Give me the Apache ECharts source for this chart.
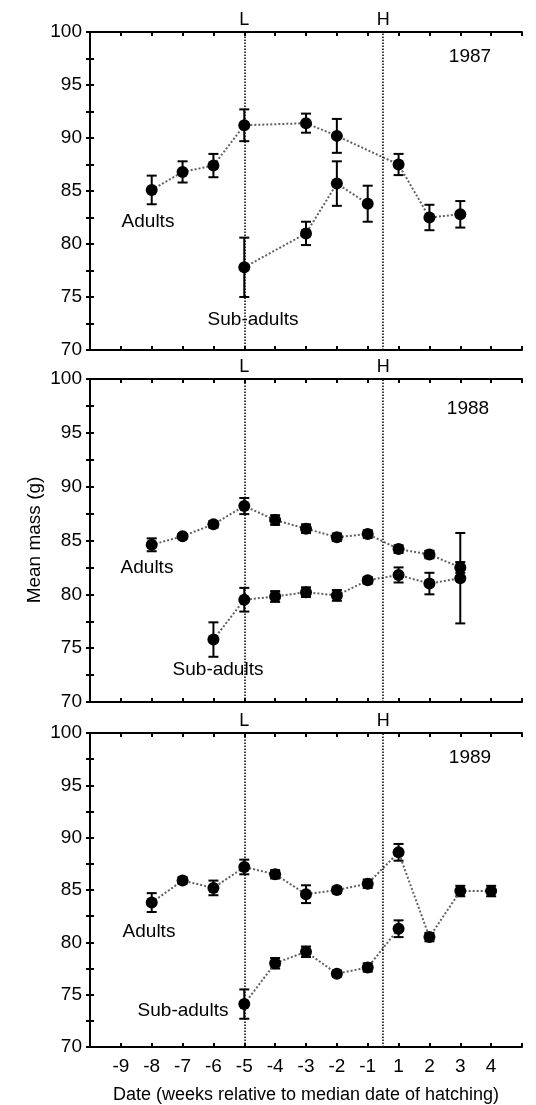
<!DOCTYPE html>
<html>
<head>
<meta charset="utf-8">
<script src="https://cdn.jsdelivr.net/npm/echarts@6.0.0/dist/echarts.min.js"></script>
<style>
  html, body { margin: 0; padding: 0; background: #fff; }
  #main { width: 536px; height: 1105px; }
</style>
</head>
<body>
<div id="main"></div>
<script>
// tick labels on the week axis (there is no week 0)
const weekLabels = ['-9', '-8', '-7', '-6', '-5', '-4', '-3', '-2', '-1', '1', '2', '3', '4'];
const years = ['1987', '1988', '1989'];

// 1987
const weeks87Adult = [-8, -7, -6, -5, -3, -2, 1, 2, 3];
const mean87Adult = [85.1, 86.8, 87.4, 91.2, 91.4, 90.2, 87.5, 82.5, 82.8];
const se87Adult = [1.35, 1.0, 1.1, 1.5, 0.9, 1.6, 1.0, 1.2, 1.25];
const weeks87Sub = [-5, -3, -2, -1];
const mean87Sub = [77.8, 81.0, 85.7, 83.8];
const se87Sub = [2.8, 1.1, 2.1, 1.7];

// 1988
const weeks88Adult = [-8, -7, -6, -5, -4, -3, -2, -1, 1, 2, 3];
const mean88Adult = [84.6, 85.4, 86.5, 88.2, 86.9, 86.1, 85.3, 85.6, 84.2, 83.7, 82.5];
const se88Adult = [0.6, 0.2, 0.3, 0.75, 0.45, 0.4, 0.35, 0.35, 0.35, 0.35, 0.5];
const weeks88Sub = [-6, -5, -4, -3, -2, -1, 1, 2, 3];
const mean88Sub = [75.8, 79.5, 79.8, 80.2, 79.9, 81.3, 81.8, 81.0, 81.5];
const se88Sub = [1.6, 1.1, 0.5, 0.45, 0.5, 0.3, 0.7, 1.0, 4.2];

// 1989
const weeks89Adult = [-8, -7, -6, -5, -4, -3, -2, -1, 1, 2, 3, 4];
const mean89Adult = [83.8, 85.9, 85.2, 87.2, 86.5, 84.6, 85.0, 85.6, 88.6, 80.5, 84.9, 84.9];
const se89Adult = [0.9, 0.3, 0.7, 0.7, 0.4, 0.85, 0.3, 0.4, 0.8, 0.4, 0.5, 0.5];
const weeks89Sub = [-5, -4, -3, -2, -1, 1];
const mean89Sub = [74.1, 78.0, 79.1, 77.0, 77.6, 81.3];
const se89Sub = [1.4, 0.5, 0.5, 0.3, 0.4, 0.8];

const laying = -5;      // L
const hatching = 0;     // H, between -1 and 1

// week -> axis slot (weeks -9..-1 are slots 1..9, weeks 1..4 are slots 10..13)
function slot(w) {
  if (w === 0) return 9.5;
  return w < 0 ? w + 10 : w + 9;
}

const panels = [
  { adult: [weeks87Adult, mean87Adult, se87Adult], sub: [weeks87Sub, mean87Sub, se87Sub],
    year: [470, 57], adultTxt: [148, 222], subTxt: [253, 320] },
  { adult: [weeks88Adult, mean88Adult, se88Adult], sub: [weeks88Sub, mean88Sub, se88Sub],
    year: [468, 409], adultTxt: [147, 568], subTxt: [218, 670] },
  { adult: [weeks89Adult, mean89Adult, se89Adult], sub: [weeks89Sub, mean89Sub, se89Sub],
    year: [470, 758], adultTxt: [149, 932], subTxt: [183, 1011] }
];

const gridTops = [32, 379, 733];
const gridHeights = [318, 323, 321];
const FONT = '"Liberation Sans", Arial, sans-serif';

const chart = echarts.init(document.getElementById('main'));

const grid = [], xAxis = [], yAxis = [], series = [], graphic = [];

function errRender(params, api) {
  const x = api.value(0);
  const top = api.coord([x, api.value(2)]);
  const bot = api.coord([x, api.value(1)]);
  const st = { stroke: '#000', lineWidth: 2 };
  const w = 5;
  return {
    type: 'group',
    children: [
      { type: 'line', shape: { x1: top[0], y1: top[1], x2: bot[0], y2: bot[1] }, style: st },
      { type: 'line', shape: { x1: top[0] - w, y1: top[1], x2: top[0] + w, y2: top[1] }, style: st },
      { type: 'line', shape: { x1: bot[0] - w, y1: bot[1], x2: bot[0] + w, y2: bot[1] }, style: st }
    ]
  };
}

panels.forEach((p, i) => {
  grid.push({ left: 90, right: 14, top: gridTops[i], height: gridHeights[i] });

  const xBase = {
    type: 'value', gridIndex: i, min: 0, max: 14, interval: 1,
    axisLine: { show: true, lineStyle: { color: '#000', width: 2 } },
    axisTick: { show: true, inside: true, length: 4, lineStyle: { color: '#000', width: 2 } },
    splitLine: { show: false }
  };
  xAxis.push(Object.assign({}, xBase, {
    position: 'bottom',
    axisLabel: {
      show: i === 2, color: '#000', fontSize: 19, fontFamily: FONT, margin: 10,
      formatter: v => (v >= 1 && v <= 13 ? weekLabels[v - 1] : '')
    },
    name: i === 2 ? 'Date (weeks relative to median date of hatching)' : '',
    nameLocation: 'middle', nameGap: 39,
    nameTextStyle: { color: '#000', fontSize: 18, fontFamily: FONT }
  }));
  xAxis.push(Object.assign({}, xBase, { position: 'top', axisLabel: { show: false } }));

  const yBase = {
    type: 'value', gridIndex: i, min: 70, max: 100, interval: 5,
    axisLine: { show: true, lineStyle: { color: '#000', width: 2 } },
    axisTick: { show: true, inside: true, length: 4, lineStyle: { color: '#000', width: 2 } },
    minorTick: { show: true, splitNumber: 2, length: 4, lineStyle: { color: '#000', width: 2 } },
    splitLine: { show: false }, minorSplitLine: { show: false }
  };
  yAxis.push(Object.assign({}, yBase, {
    position: 'left',
    axisLabel: { color: '#000', fontSize: 19, fontFamily: FONT, margin: 8 }
  }));
  yAxis.push(Object.assign({}, yBase, { position: 'right', axisLabel: { show: false } }));

  const xi = i * 2, yi = i * 2;
  [p.adult, p.sub].forEach((g, k) => {
    const [wk, mean, se] = g;
    const pts = wk.map((w, j) => [slot(w), mean[j]]);
    const bars = wk.map((w, j) => [slot(w), mean[j] - se[j], mean[j] + se[j]]);
    series.push({
      type: 'custom', xAxisIndex: xi, yAxisIndex: yi, renderItem: errRender,
      data: bars, encode: { x: 0, y: [1, 2] }, z: 3, silent: true
    });
    const line = {
      type: 'line', xAxisIndex: xi, yAxisIndex: yi, data: pts,
      symbol: 'circle', symbolSize: 12, z: 4,
      itemStyle: { color: '#000' },
      lineStyle: { color: '#606060', width: 2, type: 'dotted' }
    };
    if (k === 0) {
      line.markLine = {
        silent: true, symbol: 'none',
        lineStyle: { color: '#000', width: 1.5, type: 'dotted' },
        label: { show: true, position: 'end', formatter: '{b}', color: '#000',
                 fontSize: 18, fontFamily: FONT, distance: 3 },
        data: [
          { name: 'L', xAxis: slot(laying) },
          { name: 'H', xAxis: slot(hatching) }
        ]
      };
    }
    series.push(line);
  });

  const txt = (pos, text) => ({
    type: 'text', x: pos[0], y: pos[1], silent: true,
    style: { text: text, fill: '#000', font: '19px ' + FONT, align: 'center', verticalAlign: 'middle' }
  });
  graphic.push(txt(p.year, years[i]));
  graphic.push(txt(p.adultTxt, 'Adults'));
  graphic.push(txt(p.subTxt, 'Sub-adults'));
});

graphic.push({
  type: 'text', x: 35, y: 540, rotation: Math.PI / 2, silent: true,
  style: { text: 'Mean mass (g)', fill: '#000', font: '19px ' + FONT, align: 'center', verticalAlign: 'middle' }
});

chart.setOption({
  animation: false,
  backgroundColor: '#fff',
  grid, xAxis, yAxis, series, graphic
});
</script>
</body>
</html>
